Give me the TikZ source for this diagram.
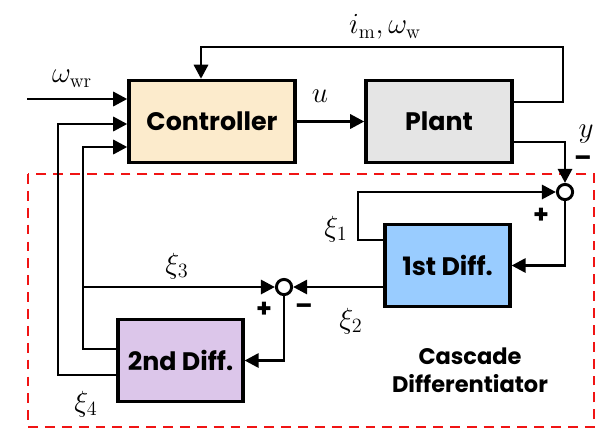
\documentclass[tikz,border=0pt]{standalone}
\usepackage{amsmath}
\usepackage{fontspec}
\setsansfont{Poppins}
\usetikzlibrary{positioning, calc, arrows.meta}
\definecolor{ctrlfill}{RGB}{252,235,204}
\definecolor{plantfill}{RGB}{229,229,229}
\definecolor{diffafill}{RGB}{153,204,255}
\definecolor{diffbfill}{RGB}{220,198,234}
\definecolor{cascred}{RGB}{240,20,20}
\tikzset{
  blockbox/.style={draw=black, line width=2.4pt, minimum height=2.05cm, align=center,
    font=\sffamily\bfseries\fontsize{18}{20}\selectfont, inner sep=1pt},
  sigline/.style={line width=2.1pt},
  sigarrow/.style={sigline, -{Triangle[length=10pt,width=10pt]}},
  sumnode/.style={circle, draw=black, line width=2.1pt, fill=white, minimum size=0.38cm, inner sep=0pt},
  siglabel/.style={font=\fontsize{20}{22}\selectfont},
  signmark/.style={font=\sffamily\bfseries\fontsize{18}{18}\selectfont},
  cascbox/.style={draw=cascred, line width=1.5pt, dash pattern=on 7pt off 5pt}
}
\begin{document}
\begin{tikzpicture}[x=0.025cm, y=-0.025cm]
  \useasboundingbox (0,0) rectangle (603,430);
  % dashed frame
  \draw[cascbox] (28,174) rectangle (594,427);
  \node[font=\sffamily\bfseries\fontsize{16}{20}\selectfont, align=center] (casc) at (470,370) {Cascade\\Differentiator};

  % blocks
  \node[blockbox, fill=ctrlfill, minimum width=4.15cm] (ctrl) at (212,121.5) {Controller};
  \node[blockbox, fill=plantfill, minimum width=3.65cm] (plant) at (439,121.5) {Plant};
  \node[blockbox, fill=diffafill, minimum width=3.12cm] (diffa) at (447.5,265.5) {1st Diff.};
  \node[blockbox, fill=diffbfill, minimum width=3.12cm] (diffb) at (180.5,360.5) {2nd Diff.};
  \node[sumnode] (suma) at (565,192) {};
  \node[sumnode] (sumb) at (284,287) {};

  % signals
  \coordinate (wrin) at (27,99);
  \draw[sigarrow] (wrin) -- (ctrl.west |- wrin);
  \node[siglabel] (wrlab) at (72,79) {$\omega_{\mathrm{wr}}$};
  \draw[sigarrow] (ctrl.east) -- (plant.west);
  \node[siglabel] (ulab) at (320,96) {$u$};
  \draw[sigarrow] (plant.east |- 0,102) -| (563,47) -| (ctrl.north -| 201,0);
  \node[siglabel] (imlab) at (385,27) {$i_{\mathrm{m}},\omega_{\mathrm{w}}$};
  \draw[sigarrow] (plant.east |- 0,142) -| (suma.north);
  \node[siglabel] (ylab) at (586,134) {$y$};
  \node[signmark] (ym) at (583,161) {--};

  % first stage
  \draw[sigarrow] (diffa.west |- 0,240) -| (358,192) -- (suma.west);
  \node[siglabel] (xia) at (336,229) {$\xi_1$};
  \node[signmark] (yp) at (541,216) {+};
  \draw[sigarrow] (suma.south) |- (diffa.east);
  \draw[sigarrow] (diffa.west |- 0,287) -- (sumb.east);
  \node[siglabel] (xib) at (351,321) {$\xi_2$};
  \node[signmark] (bm) at (304,309) {--};

  % second stage
  \draw[sigarrow] (83,287) -- (sumb.west);
  \node[siglabel] (xic) at (177,266) {$\xi_3$};
  \node[signmark] (bp) at (264,310) {+};
  \draw[sigarrow] (sumb.south) |- (diffb.east);
  \draw[sigarrow] (diffb.west |- 0,349) -| (83,147) -- (ctrl.west |- 0,147);
  \draw[sigarrow] (diffb.west |- 0,375) -| (58,124) -- (ctrl.west |- 0,124);
  \node[siglabel] (xid) at (86,404) {$\xi_4$};
\end{tikzpicture}
\end{document}
